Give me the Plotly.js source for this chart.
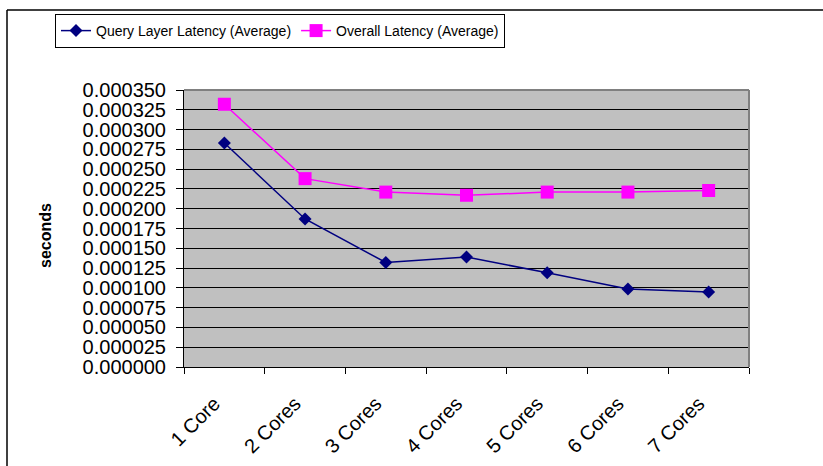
<!DOCTYPE html>
<html>
<head>
<meta charset="utf-8">
<script src="https://cdn.plot.ly/plotly-3.0.1.min.js"></script>
<style>html,body{margin:0;padding:0;background:#fff;}#chart{width:823px;height:466px;}</style>
</head>
<body>
<div id="chart"></div>
<script>
var categories = ["1 Core", "2 Cores", "3 Cores", "4 Cores", "5 Cores", "6 Cores", "7 Cores"];
var queryLatency = [0.000283, 0.000187, 0.000132, 0.000139, 0.000119, 0.0000986, 0.0000948];
var overallLatency = [0.000332, 0.000238, 0.000221, 0.000217, 0.000221, 0.000221, 0.000223];
var seriesNames = ["Query Layer Latency (Average)", "Overall Latency (Average)"];
var yTickValues = [];
for (var i = 0; i <= 14; i++) yTickValues.push(i * 0.000025);

var L = 184, R = 749, T = 90, B = 367, W = 823, H = 466;
function px(x) { return (x - L) / (R - L); }
function py(y) { return (B - y) / (B - T); }

var traces = [
  {x: categories, y: queryLatency, name: seriesNames[0], type: 'scatter', mode: 'lines+markers',
   line: {color: '#000080', width: 1.5}, marker: {symbol: 'diamond', size: 10, color: '#000080'}},
  {x: categories, y: overallLatency, name: seriesNames[1], type: 'scatter', mode: 'lines+markers',
   line: {color: '#FF00FF', width: 1.5}, marker: {symbol: 'square', size: 13, color: '#FF00FF'}}
];

var layout = {
  width: W, height: H,
  margin: {l: L, r: W - R, t: T, b: H - B},
  paper_bgcolor: '#ffffff', plot_bgcolor: '#C0C0C0',
  font: {family: 'Liberation Sans, Arial, sans-serif', color: '#000'},
  showlegend: true,
  legend: {orientation: 'h', x: px(55), y: py(14), xanchor: 'left', yanchor: 'top',
    bordercolor: '#000', borderwidth: 1, bgcolor: '#fff',
    font: {family: 'Liberation Sans, Arial, sans-serif', size: 14},
    itemwidth: 30, tracegroupgap: 0},
  xaxis: {type: 'category', showgrid: false, zeroline: false, showline: true, linecolor: '#000', linewidth: 1,
    ticks: 'outside', ticklen: 6, tickcolor: '#000', tickson: 'boundaries', tickangle: -45,
    tickfont: {size: 20}, ticklabelstandoff: 16, ticklabelshift: -10, range: [-0.5, 6.5], fixedrange: true},
  yaxis: {range: [0, 0.00035], tickvals: yTickValues, tickformat: '.6f', showgrid: true,
    gridcolor: '#000', gridwidth: 1, zeroline: false, showline: true, linecolor: '#000', linewidth: 1,
    ticks: 'outside', ticklen: 7, tickcolor: '#000', tickfont: {size: 20}, ticklabelstandoff: 6, fixedrange: true},
  annotations: [{text: '<b>seconds</b>', textangle: -90, xref: 'paper', yref: 'paper',
    x: px(46), y: py(236), xanchor: 'center', yanchor: 'middle', showarrow: false,
    font: {size: 16, color: '#000'}}],
  shapes: [
    {type: 'line', xref: 'paper', yref: 'paper', x0: 0, x1: 1, y0: 1, y1: 1, line: {color: '#808080', width: 2}},
    {type: 'line', xref: 'paper', yref: 'paper', x0: 1, x1: 1, y0: 0, y1: 1, line: {color: '#808080', width: 2}},
    {type: 'line', xref: 'paper', yref: 'paper', x0: px(7), x1: px(830), y0: py(10), y1: py(10), line: {color: '#000', width: 1.5}},
    {type: 'line', xref: 'paper', yref: 'paper', x0: px(7), x1: px(7), y0: py(10), y1: py(470), line: {color: '#000', width: 1.5}}
  ]
};

Plotly.newPlot('chart', traces, layout, {displayModeBar: false, staticPlot: true});
</script>
</body>
</html>
